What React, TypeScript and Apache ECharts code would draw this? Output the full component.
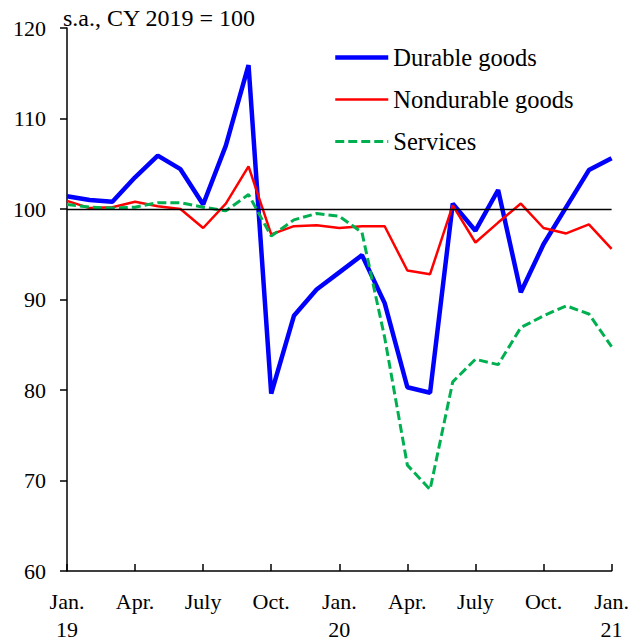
import React, { useEffect, useRef } from "react";
import * as echarts from "echarts";

const months = [
  "Jan.\n19", "Feb.", "Mar.", "Apr.", "May", "June", "July", "Aug.", "Sep.", "Oct.", "Nov.", "Dec.",
  "Jan.\n20", "Feb.", "Mar.", "Apr.", "May", "June", "July", "Aug.", "Sep.", "Oct.", "Nov.", "Dec.",
  "Jan.\n21",
];

const durable = [101.4, 101.0, 100.8, 103.5, 105.9, 104.4, 100.5, 107.0, 115.9, 79.6, 88.2, 91.1, 93.0,
  94.9, 89.6, 80.3, 79.7, 100.6, 97.6, 102.1, 90.8, 96.1, 100.2, 104.3, 105.6];

const nondurable = [100.9, 100.1, 100.2, 100.8, 100.3, 100.0, 97.9, 100.6, 104.7, 97.2, 98.1, 98.2, 97.9,
  98.1, 98.1, 93.2, 92.8, 100.4, 96.3, 98.5, 100.6, 97.9, 97.3, 98.3, 95.6];

const services = [100.5, 100.2, 100.1, 100.2, 100.7, 100.7, 100.2, 99.8, 101.6, 97.0, 98.8, 99.5, 99.2,
  97.4, 85.8, 71.7, 69.0, 80.9, 83.4, 82.8, 86.9, 88.2, 89.3, 88.4, 84.8];

const seriesNames = ["Durable goods", "Nondurable goods", "Services"];
const titleText = "s.a., CY 2019 = 100";
const baseline = 100;

const FONT = "'Liberation Serif', 'Times New Roman', serif";

export default function App() {
  const ref = useRef<HTMLDivElement>(null);
  useEffect(() => {
    if (!ref.current) return;
    const chart = echarts.init(ref.current, null, { renderer: "svg" });
    chart.setOption({
      animation: false,
      backgroundColor: "#fff",
      title: {
        text: titleText,
        left: 58,
        top: 1,
        textStyle: { fontFamily: FONT, fontSize: 24, fontWeight: "normal", color: "#000" },
      },
      legend: {
        orient: "vertical",
        left: 333,
        top: 45,
        padding: 0,
        itemWidth: 53,
        itemHeight: 14,
        itemGap: 17,
        data: seriesNames,
        itemStyle: { opacity: 0 },
        lineStyle: { width: "inherit" },
        textStyle: { fontFamily: FONT, fontSize: 24.5, color: "#000", lineHeight: 24 },
      },
      grid: { left: 67, right: 18, top: 28, bottom: 66, containLabel: false },
      xAxis: {
        type: "category",
        data: months,
        boundaryGap: false,
        axisLine: { lineStyle: { color: "#000", width: 1.5 } },
        axisTick: { inside: true, length: 7, interval: 2, lineStyle: { color: "#000", width: 1.5 } },
        axisLabel: {
          interval: 2,
          margin: 16,
          fontFamily: FONT,
          fontSize: 22,
          lineHeight: 28,
          color: "#000",
          align: "center",
        },
        splitLine: { show: false },
      },
      yAxis: {
        type: "value",
        min: 60,
        max: 120,
        interval: 10,
        axisLine: { show: true, lineStyle: { color: "#000", width: 1.5 } },
        axisTick: { show: true, length: 7, lineStyle: { color: "#000", width: 1.5 } },
        axisLabel: { margin: 21, fontFamily: FONT, fontSize: 22, color: "#000" },
        splitLine: { show: false },
      },
      series: [
        {
          name: "baseline",
          type: "line",
          data: [],
          symbol: "none",
          silent: true,
          markLine: {
            silent: true,
            symbol: "none",
            label: { show: false },
            lineStyle: { color: "#000", width: 1.3, type: "solid" },
            data: [{ yAxis: baseline }],
          },
        },
        {
          name: seriesNames[0],
          type: "line",
          data: durable,
          symbol: "none",
          color: "#0000FF",
          lineStyle: { color: "#0000FF", width: 4.5 },
        },
        {
          name: seriesNames[1],
          type: "line",
          data: nondurable,
          symbol: "none",
          color: "#FF0000",
          lineStyle: { color: "#FF0000", width: 2.5 },
        },
        {
          name: seriesNames[2],
          type: "line",
          data: services,
          symbol: "none",
          color: "#00B050",
          lineStyle: { color: "#00B050", width: 3, type: [9, 4] },
        },
      ],
    });
    return () => chart.dispose();
  }, []);
  return (
    <div
      ref={ref}
      style={{ position: "fixed", left: 0, top: 0, width: 632, height: 643, background: "#fff" }}
    />
  );
}
